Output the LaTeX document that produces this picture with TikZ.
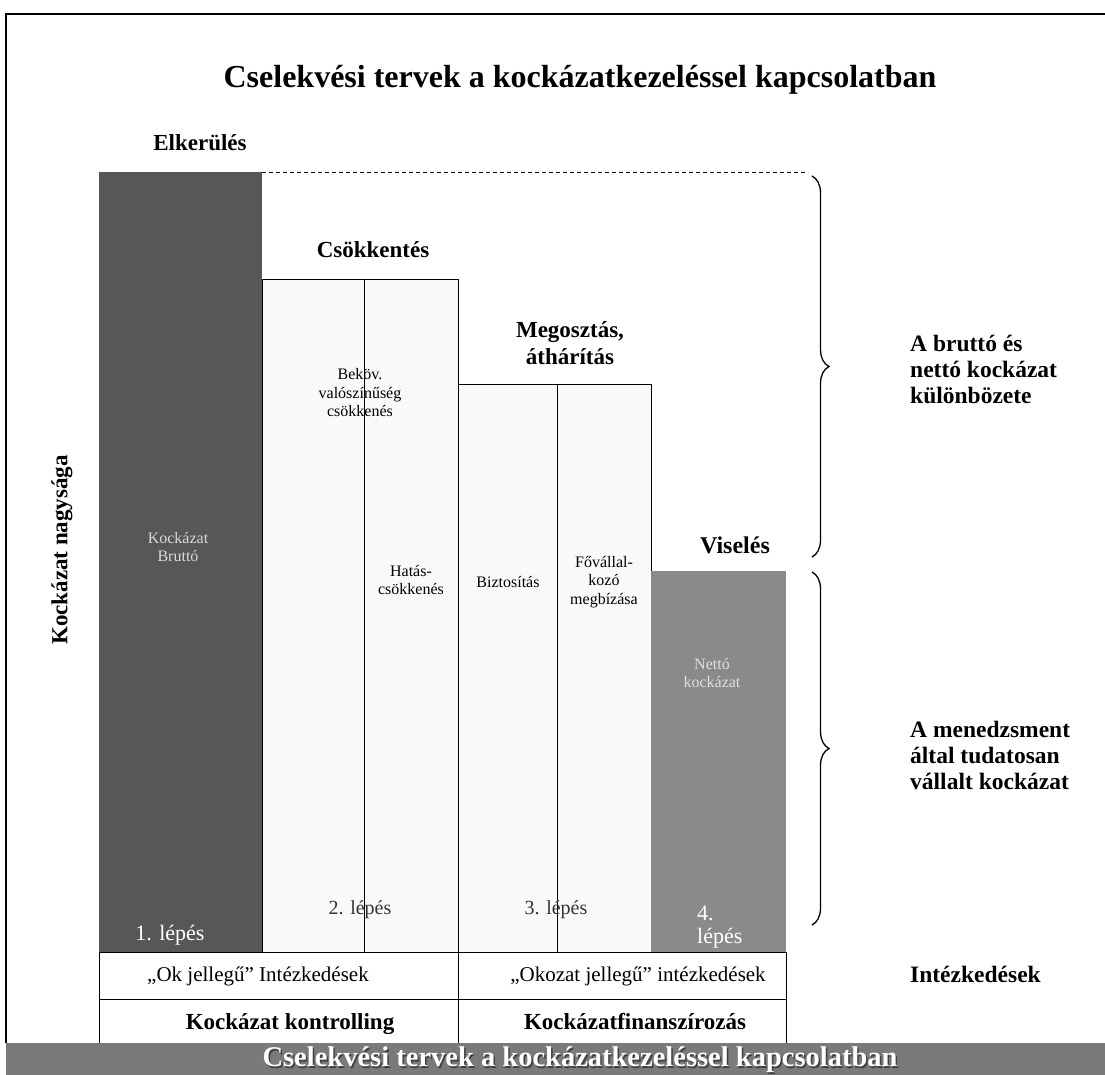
\documentclass[tikz,border=0pt]{standalone}
\usepackage{fontspec}
\setmainfont{Liberation Serif}
\usetikzlibrary{decorations.pathreplacing}
\definecolor{darkbar}{HTML}{575757}
\definecolor{midbar}{HTML}{8A8A8A}
\definecolor{lightbar}{HTML}{F9F9F9}
\definecolor{bannergray}{HTML}{7A7A7A}
\begin{document}
\begin{tikzpicture}[x=1pt,y=-1pt,
  txt/.style={inner sep=0pt, align=center},
  boldlbl/.style={txt, font=\bfseries\fontsize{23}{27}\selectfont},
  sidelbl/.style={txt, font=\bfseries\fontsize{23.5}{26}\selectfont, align=left, anchor=west},
  barlbl/.style={txt, font=\fontsize{16}{18.5}\selectfont},
  steplbl/.style={txt, font=\fontsize{20}{23}\selectfont},
  bigstep/.style={txt, font=\fontsize{22}{23}\selectfont},
  rowlbl/.style={txt, anchor=base, font=\fontsize{21}{24}\selectfont},
  rowbold/.style={txt, anchor=base, font=\bfseries\fontsize{23}{27}\selectfont},
  barline/.style={draw=black, line width=0.8pt},
  bracestyle/.style={decorate, decoration={brace, amplitude=17pt}, line width=1.3pt}
]
\useasboundingbox (0,0) rectangle (1105,1075);
\fill[white] (0,0) rectangle (1105,1075);
% outer frame
\draw[line width=1.3pt] (6,1043) -- (6,14) -- (1105,14);
% title
\node[txt, font=\bfseries\fontsize{32}{38}\selectfont] (title) at (580,80) {Cselekvési tervek a kockázatkezeléssel kapcsolatban};
% headings
\node[boldlbl] (elk) at (200,143) {Elkerülés};
\node[boldlbl] (csok) at (373,250) {Csökkentés};
\node[boldlbl] (meg) at (570,343) {Megosztás,\\áthárítás};
\node[boldlbl, font=\bfseries\fontsize{24}{27}\selectfont] (vis) at (735,545) {Viselés};
% bars
\fill[darkbar] (99,172) rectangle (262,952);
\draw[barline, fill=lightbar] (262,279) rectangle (458,952);
\draw[barline] (364,279) -- (364,952);
\draw[barline, fill=lightbar] (458,384) rectangle (651,952);
\draw[barline] (557,384) -- (557,952);
\fill[midbar] (651,571) rectangle (786,952);
\draw[line width=0.8pt, dash pattern=on 4pt off 3pt] (262,172) -- (808,172);
% bar labels
\node[barlbl, text=white!85!black] (brutto) at (178,547) {Kockázat\\Bruttó};
\node[barlbl] (bekov) at (360,393) {Beköv.\\valószínűség\\csökkenés};
\node[barlbl] (hatas) at (411,580) {Hatás-\\csökkenés};
\node[barlbl] (bizt) at (508,582) {Biztosítás};
\node[barlbl] (fov) at (604,582) {Fővállal-\\kozó\\megbízása};
\node[barlbl, text=white!88!black] (netto) at (712,673) {Nettó\\kockázat};
% steps
\node[bigstep, text=white] (s1) at (170,935) {1. lépés};
\node[steplbl, text=black!80] (s2) at (360,910) {2. lépés};
\node[steplbl, text=black!80] (s3) at (556,910) {3. lépés};
\node[bigstep, text=white, align=left, anchor=west] (s4) at (697,927) {4.\\lépés};
% rows
\draw[barline] (99,952) rectangle (786,999);
\draw[barline] (99,999) rectangle (786,1043);
\draw[barline] (458,952) -- (458,1043);
\node[rowlbl] (ok) at (258,981) {„Ok jellegű” Intézkedések};
\node[rowlbl] (okozat) at (638,981) {„Okozat jellegű” intézkedések};
\node[rowbold] (kontr) at (290,1029) {Kockázat kontrolling};
\node[rowbold] (fin) at (635,1029) {Kockázatfinanszírozás};
\node[txt, anchor=base west, font=\bfseries\fontsize{23.5}{26}\selectfont] (intez) at (910,982) {Intézkedések};
% braces
\coordinate (b1a) at (812,176);
\coordinate (b1b) at (812,557);
\coordinate (b2a) at (812,572);
\coordinate (b2b) at (812,925);
\draw[bracestyle] (b1a) -- (b1b);
\draw[bracestyle] (b2a) -- (b2b);
\node[sidelbl] (diff) at (910,369) {A bruttó és\\nettó kockázat\\különbözete};
\node[sidelbl] (mgmt) at (910,755) {A menedzsment\\által tudatosan\\vállalt kockázat};
% axis label
\node[boldlbl, rotate=90] (axis) at (62,550) {Kockázat nagysága};
% bottom banner
\fill[bannergray] (6,1043) rectangle (1105,1075);
\node[txt, font=\bfseries\fontsize{28.5}{32}\selectfont, text=black!75] (bshadow) at (581.5,1061.5) {Cselekvési tervek a kockázatkezeléssel kapcsolatban};
\node[txt, font=\bfseries\fontsize{28.5}{32}\selectfont, text=white] (banner) at (580,1060) {Cselekvési tervek a kockázatkezeléssel kapcsolatban};
\end{tikzpicture}
\end{document}
